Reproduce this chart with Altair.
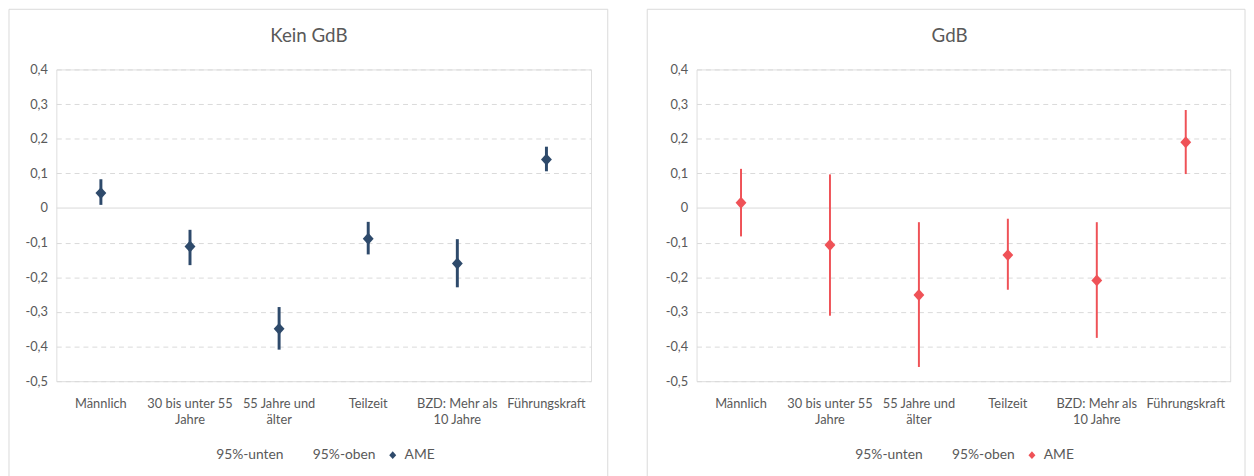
import altair as alt
import pandas as pd

categories = ["Männlich", "30 bis unter 55\nJahre", "55 Jahre und\nälter",
              "Teilzeit", "BZD: Mehr als\n10 Jahre", "Führungskraft"]
series = ["95%-unten", "95%-oben", "AME"]
y_ticks = [-0.5, -0.4, -0.3, -0.2, -0.1, 0.0, 0.1, 0.2, 0.3, 0.4]

# Kein GdB
kein_ame = [0.043, -0.111, -0.349, -0.089, -0.160, 0.140]
kein_low = [0.009, -0.165, -0.409, -0.134, -0.229, 0.106]
kein_high = [0.083, -0.063, -0.286, -0.040, -0.090, 0.177]

# GdB
gdb_ame = [0.015, -0.107, -0.251, -0.136, -0.209, 0.190]
gdb_low = [-0.082, -0.311, -0.459, -0.236, -0.375, 0.098]
gdb_high = [0.113, 0.097, -0.041, -0.031, -0.041, 0.283]

NAVY = "#2E4A6B"
RED = "#EF5257"
GREY_TXT = "#595959"
GRID = "#D9D9D9"
FONT = "Lato"
DIAMOND = "M0,-1.1L1,0L0,1.1L-1,0Z"


def panel(title, ame, low, high, color, width, bar_w, fx, fx2, title_dx, leg_x):
    wide = pd.DataFrame({"Kategorie": categories, "AME": ame,
                         "unten": low, "oben": high})
    long = pd.DataFrame({
        "Kategorie": categories * 3,
        "Reihe": [series[0]] * 6 + [series[1]] * 6 + [series[2]] * 6,
        "Wert": low + high + ame,
    })
    x = alt.X("Kategorie:N", sort=categories,
              scale=alt.Scale(type="band", paddingInner=0, paddingOuter=0),
              axis=alt.Axis(title=None, labelAngle=0, ticks=False, domain=False,
                            labelExpr="split(datum.label, '\\n')",
                            labelPadding=17, labelFontSize=13, labelColor=GREY_TXT,
                            labelFont=FONT, labelLimit=300, labelLineHeight=16))
    yscale = alt.Scale(domain=[-0.5, 0.4], nice=False, zero=False)
    yaxis = alt.Axis(title=None, values=y_ticks, ticks=False, domain=False,
                     labelExpr="abs(datum.value) < 1e-9 ? '0' : (datum.value < 0 ? '-' : '') + replace(format(abs(datum.value), '.1f'), '.', ',')",
                     labelPadding=9, labelFontSize=13, labelColor=GREY_TXT, labelFont=FONT,
                     gridColor=GRID, gridWidth=1,
                     gridDash={"condition": {"test": "abs(datum.value) < 1e-9", "value": []},
                               "value": [5, 4]})

    frame = alt.Chart(pd.DataFrame({"f": [0]})).mark_rect(
        fill="transparent", stroke=GRID, strokeWidth=1
    ).encode(x=alt.value(fx), x2=alt.value(fx2), y=alt.value(-61), y2=alt.value(420))

    bars = alt.Chart(wide).mark_rule(color=color, strokeWidth=bar_w).encode(
        x=x,
        y=alt.Y("unten:Q", scale=yscale, axis=yaxis),
        y2="oben:Q",
    )
    points = alt.Chart(long).mark_point(
        filled=True, shape=DIAMOND, size=121, opacity=1, strokeWidth=0
    ).encode(
        x=x,
        y=alt.Y("Wert:Q", scale=yscale, axis=yaxis),
        color=alt.Color("Reihe:N", sort=series,
                        scale=alt.Scale(domain=series,
                                        range=["transparent", "transparent", color]),
                        legend=alt.Legend(title=None, orient="none", direction="horizontal",
                                          legendX=leg_x, legendY=384,
                                          labelFontSize=14, labelColor=GREY_TXT, labelFont=FONT,
                                          symbolType=DIAMOND, symbolSize=50,
                                          symbolStrokeWidth=0,
                                          columnPadding=10, labelOffset=5)),
    )
    return alt.layer(frame, bars, points).properties(
        width=width, height=316,
        title=alt.TitleParams(title, fontSize=19, font=FONT, fontWeight="normal",
                              color=GREY_TXT, anchor="middle", dx=title_dx, offset=-38),
    )


left = panel("Kein GdB", kein_ame, kein_low, kein_high, NAVY, 542, 3, -48, 559, -15, 143)
right = panel("GdB", gdb_ame, gdb_low, gdb_high, RED, 541, 2, -50, 556, -14, 142)

chart = alt.hconcat(left, right, spacing=38).resolve_scale(
    color="independent", x="independent", y="independent"
).resolve_legend(color="independent").properties(
    padding={"left": 0, "top": -3, "right": 0, "bottom": 0},
    background="white",
).configure_view(stroke=None).configure(font=FONT)

chart.save("out.html", embed_options={"renderer": "svg", "actions": False})
